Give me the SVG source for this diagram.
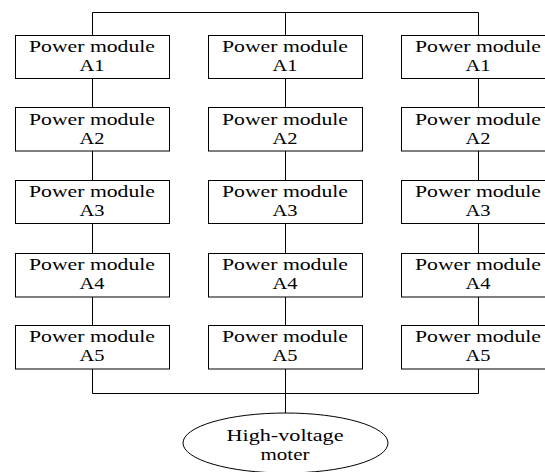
<svg xmlns="http://www.w3.org/2000/svg" width="545" height="472" viewBox="0 0 545 472">
<style>
.box{fill:#fff;stroke:#000;stroke-width:1}
.ln{fill:none;stroke:#000;stroke-width:1}
.t{font-family:"Liberation Serif","Times New Roman",serif;font-size:17px;fill:#000;text-anchor:middle}
</style>
<rect width="545" height="472" fill="#fff"/>
<g id="connectors" class="ln">
<path class="ln" d="M92.5,35 V12.5 H478.5 V35 M285.5,12.5 V35"/>
<path class="ln" d="M92.5,79 V107 M92.5,151 V180 M92.5,224 V253 M92.5,297 V325"/>
<path class="ln" d="M285.5,79 V107 M285.5,151 V180 M285.5,224 V253 M285.5,297 V325"/>
<path class="ln" d="M478.5,79 V107 M478.5,151 V180 M478.5,224 V253 M478.5,297 V325"/>
<path class="ln" d="M92.5,369 V393.5 H478.5 V369 M285.5,369 V413"/>
</g>
<g class="t">
<g id="c1a1"><rect class="box" x="15.5" y="35.5" width="154" height="43"/><text x="92" y="52" textLength="126" lengthAdjust="spacingAndGlyphs">Power module</text><text x="92" y="71" textLength="25" lengthAdjust="spacingAndGlyphs">A1</text></g>
<g id="c1a2"><rect class="box" x="15.5" y="107.5" width="154" height="43.5"/><text x="92" y="124.5" textLength="126" lengthAdjust="spacingAndGlyphs">Power module</text><text x="92" y="143.5" textLength="25" lengthAdjust="spacingAndGlyphs">A2</text></g>
<g id="c1a3"><rect class="box" x="15.5" y="180.5" width="154" height="43"/><text x="92" y="197" textLength="126" lengthAdjust="spacingAndGlyphs">Power module</text><text x="92" y="216" textLength="25" lengthAdjust="spacingAndGlyphs">A3</text></g>
<g id="c1a4"><rect class="box" x="15.5" y="253.5" width="154" height="43.5"/><text x="92" y="270" textLength="126" lengthAdjust="spacingAndGlyphs">Power module</text><text x="92" y="289" textLength="25" lengthAdjust="spacingAndGlyphs">A4</text></g>
<g id="c1a5"><rect class="box" x="15.5" y="325.5" width="154" height="43.5"/><text x="92" y="342" textLength="126" lengthAdjust="spacingAndGlyphs">Power module</text><text x="92" y="361" textLength="25" lengthAdjust="spacingAndGlyphs">A5</text></g>
<g id="c2a1"><rect class="box" x="208.5" y="35.5" width="154" height="43"/><text x="285" y="52" textLength="126" lengthAdjust="spacingAndGlyphs">Power module</text><text x="285" y="71" textLength="25" lengthAdjust="spacingAndGlyphs">A1</text></g>
<g id="c2a2"><rect class="box" x="208.5" y="107.5" width="154" height="43.5"/><text x="285" y="124.5" textLength="126" lengthAdjust="spacingAndGlyphs">Power module</text><text x="285" y="143.5" textLength="25" lengthAdjust="spacingAndGlyphs">A2</text></g>
<g id="c2a3"><rect class="box" x="208.5" y="180.5" width="154" height="43"/><text x="285" y="197" textLength="126" lengthAdjust="spacingAndGlyphs">Power module</text><text x="285" y="216" textLength="25" lengthAdjust="spacingAndGlyphs">A3</text></g>
<g id="c2a4"><rect class="box" x="208.5" y="253.5" width="154" height="43.5"/><text x="285" y="270" textLength="126" lengthAdjust="spacingAndGlyphs">Power module</text><text x="285" y="289" textLength="25" lengthAdjust="spacingAndGlyphs">A4</text></g>
<g id="c2a5"><rect class="box" x="208.5" y="325.5" width="154" height="43.5"/><text x="285" y="342" textLength="126" lengthAdjust="spacingAndGlyphs">Power module</text><text x="285" y="361" textLength="25" lengthAdjust="spacingAndGlyphs">A5</text></g>
<g id="c3a1"><rect class="box" x="401.5" y="35.5" width="154" height="43"/><text x="478" y="52" textLength="126" lengthAdjust="spacingAndGlyphs">Power module</text><text x="478" y="71" textLength="25" lengthAdjust="spacingAndGlyphs">A1</text></g>
<g id="c3a2"><rect class="box" x="401.5" y="107.5" width="154" height="43.5"/><text x="478" y="124.5" textLength="126" lengthAdjust="spacingAndGlyphs">Power module</text><text x="478" y="143.5" textLength="25" lengthAdjust="spacingAndGlyphs">A2</text></g>
<g id="c3a3"><rect class="box" x="401.5" y="180.5" width="154" height="43"/><text x="478" y="197" textLength="126" lengthAdjust="spacingAndGlyphs">Power module</text><text x="478" y="216" textLength="25" lengthAdjust="spacingAndGlyphs">A3</text></g>
<g id="c3a4"><rect class="box" x="401.5" y="253.5" width="154" height="43.5"/><text x="478" y="270" textLength="126" lengthAdjust="spacingAndGlyphs">Power module</text><text x="478" y="289" textLength="25" lengthAdjust="spacingAndGlyphs">A4</text></g>
<g id="c3a5"><rect class="box" x="401.5" y="325.5" width="154" height="43.5"/><text x="478" y="342" textLength="126" lengthAdjust="spacingAndGlyphs">Power module</text><text x="478" y="361" textLength="25" lengthAdjust="spacingAndGlyphs">A5</text></g>
<g id="motor"><ellipse class="box" cx="285.5" cy="443" rx="102.5" ry="30"/><text x="285" y="441" textLength="117" lengthAdjust="spacingAndGlyphs">High-voltage</text><text x="285" y="460" textLength="49" lengthAdjust="spacingAndGlyphs">moter</text></g>
</g>
</svg>
